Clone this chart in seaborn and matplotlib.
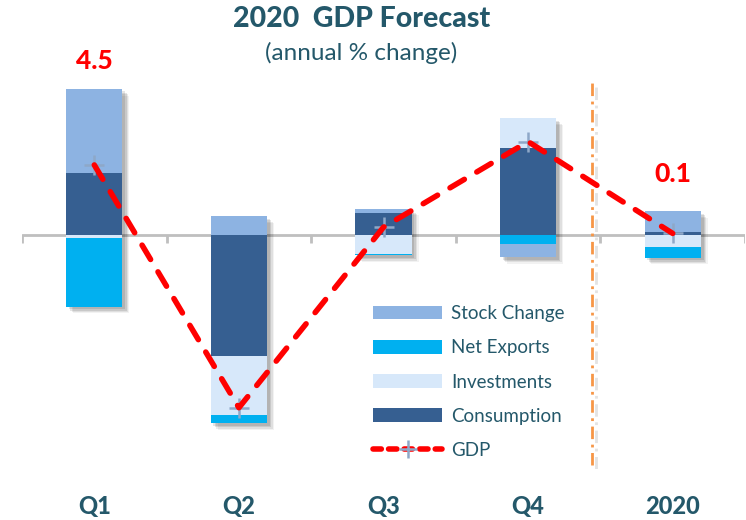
import numpy as np
import matplotlib
matplotlib.use("Agg")
import matplotlib.pyplot as plt
import matplotlib.patheffects as pe
from matplotlib.patches import Patch
from matplotlib.lines import Line2D
import seaborn as sns

# Contributions to GDP growth (percentage points, annualised)
categories = ["Q1", "Q2", "Q3", "Q4", "2020"]
consumption = [4.0, -7.8, 1.4, 5.6, 0.17]
investments = [-0.2, -3.75, -1.2, 1.9, -0.8]
net_exports = [-4.4, -0.55, -0.1, -0.6, -0.65]
stock_change = [5.4, 1.2, 0.3, -0.8, 1.35]
gdp = [4.5, -11.1, 0.5, 6.0, 0.1]

# categories whose GDP value is written above the bar
labelled = [0, 4]

series = [
    ("Consumption", consumption, "#365F91"),
    ("Investments", investments, "#D7E8FA"),
    ("Net Exports", net_exports, "#00B0F0"),
    ("Stock Change", stock_change, "#8DB3E2"),
]

TEAL = "#24586A"

sns.set_theme(style="white")
plt.rcParams["font.family"] = ["Lato", "DejaVu Sans"]

fig = plt.figure(figsize=(7.46, 5.2), dpi=100)
ax = fig.add_axes([22 / 746, 51 / 520, 723 / 746, 429 / 520])

x = np.arange(len(categories))
bar_w = 0.39

# totals of positive and negative contributions, used for the drop shadow
pos_total = np.zeros(len(categories))
neg_total = np.zeros(len(categories))
for _, vals, _ in series:
    v = np.asarray(vals, dtype=float)
    pos_total += np.where(v > 0, v, 0)
    neg_total += np.where(v < 0, v, 0)

shadow = [pe.SimplePatchShadow(offset=(o, -o), shadow_rgbFace="black", alpha=a)
          for o, a in [(5.0, 0.05), (4.0, 0.08), (3.0, 0.10), (2.0, 0.10)]]
ax.bar(x, pos_total - neg_total, bottom=neg_total, width=bar_w,
       color="white", linewidth=0, zorder=1.5,
       path_effects=shadow + [pe.Normal()])

# stacked bars: positive parts stack upwards, negative parts downwards
pos_base = np.zeros(len(categories))
neg_base = np.zeros(len(categories))
for name, vals, color in series:
    v = np.asarray(vals, dtype=float)
    bottom = np.where(v >= 0, pos_base, neg_base)
    sns.barplot(x=categories, y=v, bottom=bottom, color=color, saturation=1,
                width=bar_w, errorbar=None, linewidth=0, ax=ax, zorder=2)
    pos_base += np.where(v > 0, v, 0)
    neg_base += np.where(v < 0, v, 0)

# GDP line with cross markers underneath
sns.scatterplot(x=x, y=gdp, marker="+", s=220, color="#8EA8C8",
                linewidth=1.8, ax=ax, zorder=3, legend=False)
sns.lineplot(x=x, y=gdp, color="#FF0000", linewidth=4.0, ax=ax, zorder=4,
             dashes=False, legend=False)
ax.lines[-1].set_dashes((3.0, 2.6))
ax.lines[-1].set_dash_capstyle("round")

# zero axis with category separators
ax.axhline(0, color="#BFBFBF", linewidth=2, zorder=0.5)
ax.vlines(np.arange(-0.5, len(categories) + 0.5, 1.0), -0.5, 0,
          color="#BFBFBF", linewidth=2, zorder=0.5)

# divider between quarters and the annual figure
ax.vlines(3.443, -14.8, 9.8, color="#F79646", linewidth=2, zorder=1,
          linestyles=[(0, (4.5, 2, 1, 2))],
          path_effects=[pe.SimpleLineShadow(offset=(2.5, -2.5), alpha=0.12),
                        pe.Normal()])

for i, dy in zip(labelled, [28, 37]):
    ax.annotate(f"{gdp[i]:.1f}", xy=(x[i], pos_total[i]), xytext=(0, dy * 0.72),
                textcoords="offset points", ha="center", va="center",
                color="#FF0000", fontsize=19, fontweight="black")

ax.set_xlim(-0.5, len(categories) - 0.5)
ax.set_ylim(-15.04, 12.53)
ax.set_yticks([])
ax.set_xticks(x, categories)
ax.tick_params(axis="x", length=0, pad=19, labelsize=17, labelcolor=TEAL)
for lab in ax.get_xticklabels():
    lab.set_fontweight("black")
ax.set_xlabel("")
ax.set_ylabel("")
sns.despine(ax=ax, left=True, bottom=True)

fig.text(362 / 746, 1 - 19 / 520, "2020  GDP Forecast", ha="center", va="center",
         fontsize=20.5, fontweight="black", color=TEAL)
fig.text(361 / 746, 1 - 53 / 520, "(annual % change)", ha="center", va="center",
         fontsize=17.5, color=TEAL)

handles = [Patch(facecolor=c, linewidth=0) for _, _, c in series[::-1]]
labels = [n for n, _, _ in series[::-1]]
handles.append(Line2D([], [], color="#FF0000", linewidth=4.0, dashes=(1.5, 1.3),
                      dash_capstyle="round", marker="+", markersize=13,
                      markeredgewidth=1.8, markeredgecolor="#8EA8C8"))
labels.append("GDP")
leg = fig.legend(handles, labels, loc="upper left",
                 bbox_to_anchor=(373 / 746, 1 - 305 / 520), frameon=False,
                 fontsize=13.5, handlelength=3.7, handleheight=0.75,
                 handletextpad=0.45, labelspacing=0.92, borderpad=0,
                 borderaxespad=0)
for t in leg.get_texts():
    t.set_color(TEAL)

fig.savefig("out.png", dpi=100)
